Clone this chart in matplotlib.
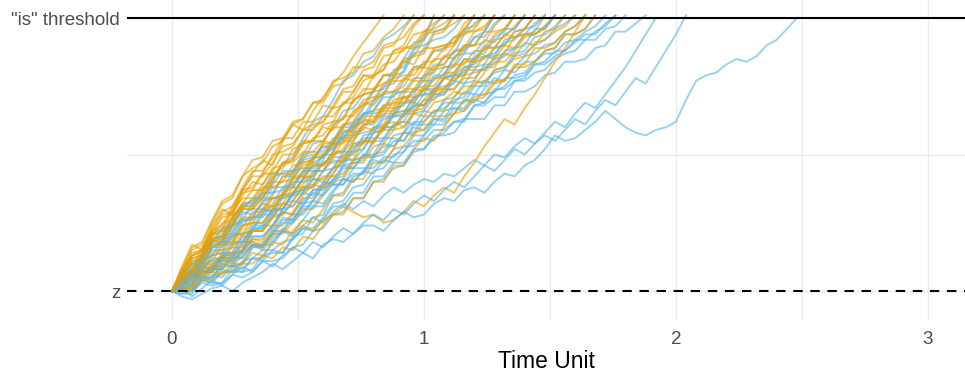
import numpy as np
import matplotlib
matplotlib.use("Agg")
import matplotlib.pyplot as plt

plt.rcParams['font.family'] = ['Liberation Sans', 'DejaVu Sans']

# Evidence accumulation paths, sampled every DT time units,
# in percent of the distance from the start point z to the "is" threshold.
DT = 0.04

gold_paths = [
    [0, 9, 17, 15, 24, 30, 28, 37, 43, 48, 46, 55, 61, 59, 66, 71, 76, 80, 86, 91, 96, 101],
    [0, 8, 16, 18, 26, 33, 35, 42, 45, 47, 53, 55, 61, 63, 69, 70, 77, 78, 80, 87, 88, 93, 96, 101],
    [0, 5, 6, 13, 20, 22, 24, 31, 33, 35, 41, 47, 48, 54, 60, 62, 68, 74, 75, 81, 82, 89, 90, 96, 101],
    [0, 2, 4, 11, 13, 14, 20, 21, 27, 28, 34, 35, 41, 47, 48, 54, 61, 63, 70, 72, 79, 81, 88, 90, 97, 101],
    [0, 8, 15, 17, 25, 32, 34, 42, 48, 49, 55, 56, 62, 63, 69, 69, 75, 76, 82, 82, 84, 90, 91, 93, 98, 101],
    [0, 6, 13, 15, 21, 23, 30, 36, 37, 43, 43, 45, 52, 54, 55, 61, 62, 63, 70, 72, 73, 79, 80, 85, 86, 92, 101],
    [0, 3, 8, 9, 11, 17, 17, 23, 29, 29, 35, 42, 43, 50, 56, 57, 62, 69, 71, 77, 79, 86, 87, 88, 94, 95, 98, 101],
    [0, 7, 8, 16, 22, 24, 31, 37, 38, 43, 50, 51, 53, 59, 61, 62, 67, 68, 73, 79, 79, 81, 88, 89, 90, 95, 96, 98, 101],
    [0, 2, 8, 10, 16, 18, 18, 24, 25, 30, 31, 36, 42, 42, 48, 54, 54, 60, 66, 68, 74, 76, 78, 84, 86, 87, 94, 95, 101],
    [0, 7, 14, 15, 23, 29, 31, 38, 44, 44, 49, 56, 56, 62, 62, 68, 67, 73, 73, 79, 78, 83, 84, 89, 89, 94, 95, 96, 98, 101],
    [0, 1, 3, 9, 10, 11, 16, 16, 22, 22, 27, 28, 33, 38, 39, 44, 50, 52, 58, 59, 66, 67, 73, 75, 81, 82, 89, 90, 91, 98, 101],
    [0, 5, 12, 13, 19, 21, 27, 32, 33, 38, 38, 40, 46, 47, 48, 53, 53, 55, 61, 62, 63, 68, 68, 74, 74, 79, 85, 85, 90, 96, 101],
    [0, 2, 7, 8, 9, 14, 14, 20, 25, 25, 30, 36, 38, 44, 49, 49, 55, 61, 62, 68, 70, 76, 77, 77, 82, 83, 88, 88, 93, 94, 96, 101],
    [0, 6, 7, 14, 21, 22, 29, 34, 34, 39, 45, 46, 48, 54, 55, 55, 60, 60, 65, 70, 71, 72, 78, 79, 79, 84, 84, 89, 90, 95, 95, 97, 101],
    [0, 4, 4, 9, 16, 17, 18, 24, 25, 25, 30, 35, 36, 41, 46, 46, 51, 56, 56, 61, 62, 67, 67, 72, 77, 77, 82, 83, 88, 89, 95, 96, 101],
    [0, 1, 2, 8, 9, 9, 14, 14, 19, 19, 24, 24, 29, 34, 34, 39, 45, 47, 53, 54, 60, 61, 67, 68, 74, 75, 81, 82, 83, 89, 90, 91, 97, 101],
    [0, 7, 13, 14, 21, 27, 28, 35, 40, 39, 44, 50, 50, 55, 55, 60, 59, 64, 64, 69, 68, 73, 73, 78, 77, 82, 81, 86, 85, 90, 90, 95, 95, 96, 101],
    [0, 5, 11, 12, 18, 19, 25, 30, 30, 34, 34, 35, 41, 42, 42, 47, 47, 48, 54, 55, 55, 60, 60, 65, 65, 70, 74, 74, 79, 84, 84, 89, 94, 96, 101],
    [0, 2, 7, 7, 7, 12, 12, 17, 22, 22, 27, 32, 33, 39, 44, 44, 49, 55, 55, 61, 62, 68, 69, 69, 74, 73, 78, 78, 83, 83, 88, 88, 92, 93, 97, 101],
    [0, 6, 7, 13, 19, 20, 27, 31, 31, 36, 42, 43, 43, 49, 50, 50, 54, 54, 59, 64, 64, 64, 70, 71, 71, 75, 75, 80, 80, 85, 84, 89, 89, 94, 93, 96, 101],
    [0, 4, 4, 8, 14, 15, 16, 21, 22, 22, 27, 32, 31, 36, 41, 41, 45, 50, 50, 55, 55, 59, 59, 64, 69, 68, 73, 74, 78, 79, 84, 85, 89, 90, 95, 96, 101],
    [0, 1, 1, 7, 8, 8, 12, 12, 17, 16, 21, 21, 25, 30, 30, 35, 40, 41, 47, 47, 53, 54, 59, 60, 66, 67, 72, 73, 74, 79, 80, 81, 86, 87, 93, 94, 95, 101],
    [0, 7, 12, 13, 20, 25, 26, 32, 37, 37, 41, 47, 47, 51, 51, 55, 54, 59, 58, 63, 62, 66, 66, 71, 69, 74, 73, 78, 77, 81, 81, 86, 85, 90, 89, 94, 94, 97, 101],
    [0, 5, 10, 11, 17, 17, 23, 27, 27, 32, 31, 32, 38, 38, 38, 42, 42, 43, 48, 49, 49, 53, 53, 58, 57, 62, 66, 66, 71, 75, 75, 80, 84, 84, 88, 93, 94, 96, 101],
    [0, 1, 1, 4, 4, 7, 7, 10, 10, 13, 12, 16, 15, 20, 19, 24, 28, 28, 34, 34, 40, 40, 46, 46, 52, 56, 55, 60, 65, 66, 71, 72, 77, 77, 83, 83, 89, 89, 91, 95, 97, 101],
    [0, 2, 6, 5, 7, 11, 10, 15, 19, 18, 23, 29, 28, 35, 39, 38, 43, 49, 48, 55, 54, 61, 62, 60, 65, 64, 69, 70, 73, 72, 77, 76, 81, 82, 85, 86, 91, 92, 95, 97, 101],
    [0, 4, 8, 6, 10, 13, 11, 15, 18, 16, 20, 23, 21, 24, 22, 26, 28, 31, 29, 27, 28, 25, 26, 29, 33, 31, 35, 38, 36, 42, 47, 53, 58, 63, 61, 67, 72, 78, 84, 89, 95, 101],
    [0, 6, 6, 13, 18, 19, 25, 30, 30, 34, 40, 40, 41, 46, 47, 46, 51, 51, 55, 60, 59, 60, 65, 66, 66, 70, 70, 74, 74, 78, 78, 82, 82, 87, 86, 91, 90, 95, 96, 101],
    [0, 0, 1, 6, 7, 6, 10, 10, 14, 13, 18, 17, 22, 26, 25, 30, 35, 35, 41, 41, 47, 47, 52, 53, 58, 59, 64, 64, 65, 70, 70, 71, 76, 77, 82, 82, 84, 88, 89, 94, 94, 96, 101],
    [0, 7, 13, 15, 22, 28, 29, 37, 42, 42, 47, 53, 54, 59, 59, 64, 64, 69, 69, 74, 74, 79, 79, 84, 83, 89, 89, 90, 91, 96, 97, 101],
]

blue_paths = [
    [0, 3, 9, 11, 13, 19, 20, 26, 32, 34, 40, 47, 49, 56, 62, 64, 70, 77, 79, 84, 86, 92, 94, 97, 101],
    [0, 1, 7, 7, 7, 13, 13, 15, 22, 24, 24, 30, 36, 37, 43, 50, 52, 58, 60, 62, 69, 75, 76, 81, 88, 93, 101],
    [0, 5, 5, 11, 18, 20, 21, 28, 30, 30, 36, 42, 42, 48, 54, 55, 60, 66, 67, 72, 73, 79, 79, 85, 91, 92, 97, 101],
    [0, 2, 3, 10, 11, 12, 17, 18, 24, 24, 30, 30, 36, 41, 42, 48, 54, 56, 62, 64, 70, 72, 79, 80, 87, 88, 95, 96, 101],
    [0, 1, 2, 7, 8, 13, 14, 15, 22, 23, 29, 35, 35, 41, 47, 49, 55, 61, 61, 67, 73, 74, 81, 82, 89, 90, 92, 93, 96, 101],
    [0, 4, 5, 10, 16, 18, 19, 25, 27, 27, 32, 38, 38, 43, 49, 49, 54, 60, 60, 65, 66, 71, 71, 77, 82, 82, 88, 89, 93, 95, 101],
    [0, 4, 5, 12, 17, 18, 24, 26, 27, 33, 34, 34, 40, 40, 41, 47, 49, 49, 54, 54, 60, 60, 65, 71, 72, 79, 80, 86, 87, 94, 98, 101],
    [0, 0, 5, 4, 5, 10, 9, 10, 16, 17, 17, 22, 28, 28, 33, 39, 40, 46, 47, 48, 55, 60, 60, 65, 71, 72, 78, 79, 86, 87, 93, 95, 101],
    [0, 5, 11, 12, 19, 20, 26, 31, 31, 36, 36, 37, 44, 45, 45, 50, 50, 51, 57, 58, 59, 64, 64, 69, 69, 74, 79, 79, 85, 90, 90, 95, 101],
    [0, 2, 7, 7, 8, 13, 13, 18, 23, 23, 28, 34, 35, 41, 46, 46, 51, 58, 59, 65, 66, 72, 73, 73, 78, 78, 83, 83, 88, 88, 93, 93, 98, 101],
    [0, -1, -1, 4, 3, 3, 8, 7, 8, 13, 14, 14, 20, 21, 27, 28, 35, 36, 42, 43, 50, 51, 57, 58, 65, 66, 71, 72, 79, 80, 86, 87, 93, 95, 101],
    [0, 6, 7, 14, 19, 20, 27, 32, 32, 37, 43, 43, 44, 50, 51, 51, 56, 56, 60, 65, 65, 66, 72, 73, 73, 77, 77, 82, 82, 87, 87, 92, 91, 96, 96, 101],
    [0, 2, 8, 9, 8, 13, 18, 18, 23, 29, 30, 30, 36, 37, 38, 44, 45, 46, 51, 52, 58, 59, 65, 66, 67, 72, 73, 78, 80, 85, 85, 90, 89, 94, 96, 101],
    [0, 1, 2, 7, 8, 8, 13, 12, 17, 17, 22, 22, 26, 31, 31, 36, 41, 42, 48, 49, 55, 55, 61, 62, 68, 68, 74, 75, 76, 82, 82, 83, 89, 90, 95, 96, 101],
    [0, 1, 0, 5, 5, 10, 9, 10, 16, 16, 22, 27, 26, 31, 37, 38, 43, 48, 48, 52, 58, 59, 64, 65, 71, 72, 72, 78, 79, 79, 85, 86, 86, 92, 93, 94, 98, 101],
    [0, 6, 10, 12, 18, 23, 24, 30, 34, 34, 39, 44, 44, 48, 49, 53, 52, 57, 57, 61, 61, 65, 65, 69, 70, 74, 74, 78, 79, 82, 83, 86, 87, 91, 92, 96, 97, 101],
    [0, 4, 4, 10, 15, 15, 21, 21, 22, 28, 28, 28, 33, 32, 33, 38, 39, 39, 43, 43, 48, 47, 52, 58, 58, 64, 64, 70, 71, 76, 77, 83, 83, 88, 89, 94, 94, 97, 101],
    [0, 1, 1, 5, 4, 8, 7, 11, 12, 15, 15, 18, 19, 23, 23, 27, 32, 33, 38, 39, 44, 45, 50, 51, 57, 57, 63, 63, 69, 69, 75, 75, 81, 82, 87, 88, 93, 94, 97, 101],
    [0, 4, 3, 8, 13, 14, 14, 20, 20, 20, 24, 29, 28, 33, 37, 37, 41, 46, 45, 50, 49, 54, 53, 58, 62, 62, 66, 67, 70, 71, 76, 77, 80, 81, 86, 87, 90, 92, 96, 98, 101],
    [0, 4, 10, 10, 16, 16, 22, 26, 26, 30, 29, 30, 35, 36, 35, 40, 39, 39, 45, 45, 45, 49, 49, 53, 53, 57, 61, 61, 65, 70, 69, 74, 78, 77, 82, 86, 87, 90, 91, 95, 97, 101],
    [0, 5, 6, 12, 18, 18, 24, 29, 28, 32, 38, 38, 39, 44, 44, 44, 48, 47, 52, 56, 56, 56, 61, 62, 61, 66, 65, 69, 69, 73, 72, 77, 76, 81, 80, 84, 84, 88, 89, 94, 94, 96, 101],
    [0, -1, 0, 3, 2, 3, 6, 5, 7, 11, 11, 12, 16, 17, 22, 23, 28, 29, 34, 34, 40, 41, 45, 46, 51, 52, 56, 58, 62, 63, 68, 69, 73, 75, 79, 80, 84, 87, 87, 91, 92, 95, 97, 101],
    [0, 1, 6, 5, 5, 9, 9, 13, 17, 16, 21, 26, 26, 32, 36, 35, 39, 45, 45, 50, 50, 56, 56, 55, 60, 59, 63, 62, 67, 66, 70, 69, 74, 74, 77, 78, 83, 83, 86, 88, 92, 92, 95, 97, 101],
    [0, 3, 2, 7, 12, 12, 12, 18, 18, 17, 21, 25, 25, 29, 33, 32, 37, 41, 40, 44, 43, 48, 47, 51, 55, 55, 59, 59, 62, 62, 68, 68, 71, 71, 77, 77, 80, 81, 85, 87, 88, 92, 92, 96, 97, 101],
    [0, 0, 0, 4, 3, 7, 7, 7, 12, 12, 18, 22, 21, 26, 31, 31, 36, 41, 40, 44, 49, 50, 55, 55, 61, 61, 61, 66, 67, 67, 72, 72, 73, 78, 78, 79, 83, 84, 88, 88, 91, 94, 94, 98, 101],
    [0, 0, 0, 5, 6, 5, 9, 8, 12, 11, 15, 14, 19, 23, 22, 26, 31, 31, 36, 36, 42, 42, 47, 47, 52, 52, 57, 57, 58, 63, 63, 63, 68, 68, 73, 73, 75, 79, 80, 84, 84, 85, 89, 90, 95, 95, 98, 101],
    [0, 4, 7, 5, 9, 12, 10, 14, 17, 15, 19, 22, 20, 24, 27, 25, 29, 32, 30, 33, 31, 35, 38, 36, 39, 41, 40, 43, 42, 45, 48, 46, 50, 49, 53, 56, 54, 58, 62, 60, 65, 69, 67, 72, 77, 82, 88, 94, 100],
    [0, 1, -2, 1, 4, 2, 6, 9, 7, 11, 9, 13, 16, 14, 18, 16, 20, 23, 21, 25, 28, 26, 30, 28, 32, 35, 33, 37, 40, 38, 42, 46, 44, 48, 52, 50, 54, 57, 55, 59, 63, 61, 66, 70, 68, 73, 78, 76, 82, 88, 94, 101],
    [0, 2, 6, 6, 7, 11, 11, 15, 20, 20, 24, 30, 31, 36, 41, 40, 45, 51, 51, 57, 58, 63, 64, 64, 68, 68, 72, 72, 77, 76, 81, 81, 85, 86, 89, 90, 96, 96, 101],
    [0, -2, -3, -1, 1, 2, 0, 3, 5, 7, 10, 8, 11, 14, 12, 17, 19, 18, 21, 24, 24, 22, 26, 29, 27, 28, 32, 34, 33, 37, 38,
     36, 40, 43, 42, 46, 48, 52, 57, 55, 56, 59, 62, 66, 63, 60, 58, 57, 59, 60, 62, 70, 77, 79, 80, 83, 85, 84, 86, 90,
     92, 96, 100],
]

y_ticks = [0, 1]
y_tick_labels = ["z", '"is" threshold']
x_ticks = [0, 1, 2, 3]

GOLD = "#E69F00"
BLUE = "#56B4E9"
GRID = "#EBEBEB"
TEXT = "#4D4D4D"

fig = plt.figure(figsize=(9.65, 3.78), dpi=100)
ax = fig.add_axes([127 / 965, 58 / 378, 838 / 965, 320 / 378])

for i in range(max(len(gold_paths), len(blue_paths))):
    for paths, col in ((blue_paths, BLUE), (gold_paths, GOLD)):
        if i < len(paths):
            y = np.asarray(paths[i], dtype=float) / 100.0
            t = np.arange(len(y)) * DT
            ax.plot(t, y, color=col, alpha=0.6, lw=1.4, solid_joinstyle="round", zorder=2)

ax.axhline(1, color="black", lw=1.5, zorder=3)
ax.axhline(0, color="black", lw=1.5, dashes=(4.5, 3.7), zorder=3)

ax.set_xlim(-0.178, 3.147)
ax.set_ylim(-0.106, 1.066)

ax.set_xticks(x_ticks)
ax.set_xticks([0.5, 1.5, 2.5], minor=True)
ax.set_yticks(y_ticks)
ax.set_yticklabels(y_tick_labels)
ax.set_yticks([0.5], minor=True)

ax.grid(True, which="both", color=GRID, lw=1.0, zorder=0)
ax.set_axisbelow(True)
for s in ax.spines.values():
    s.set_visible(False)
ax.tick_params(which="both", length=0)
ax.tick_params(axis="x", labelsize=13.5, colors=TEXT, pad=8)
ax.tick_params(axis="y", labelsize=13.5, colors=TEXT, pad=5)

ax.set_xlabel("Time Unit", fontsize=16.5, color="black", labelpad=1)

fig.savefig("out.png", dpi=100)
